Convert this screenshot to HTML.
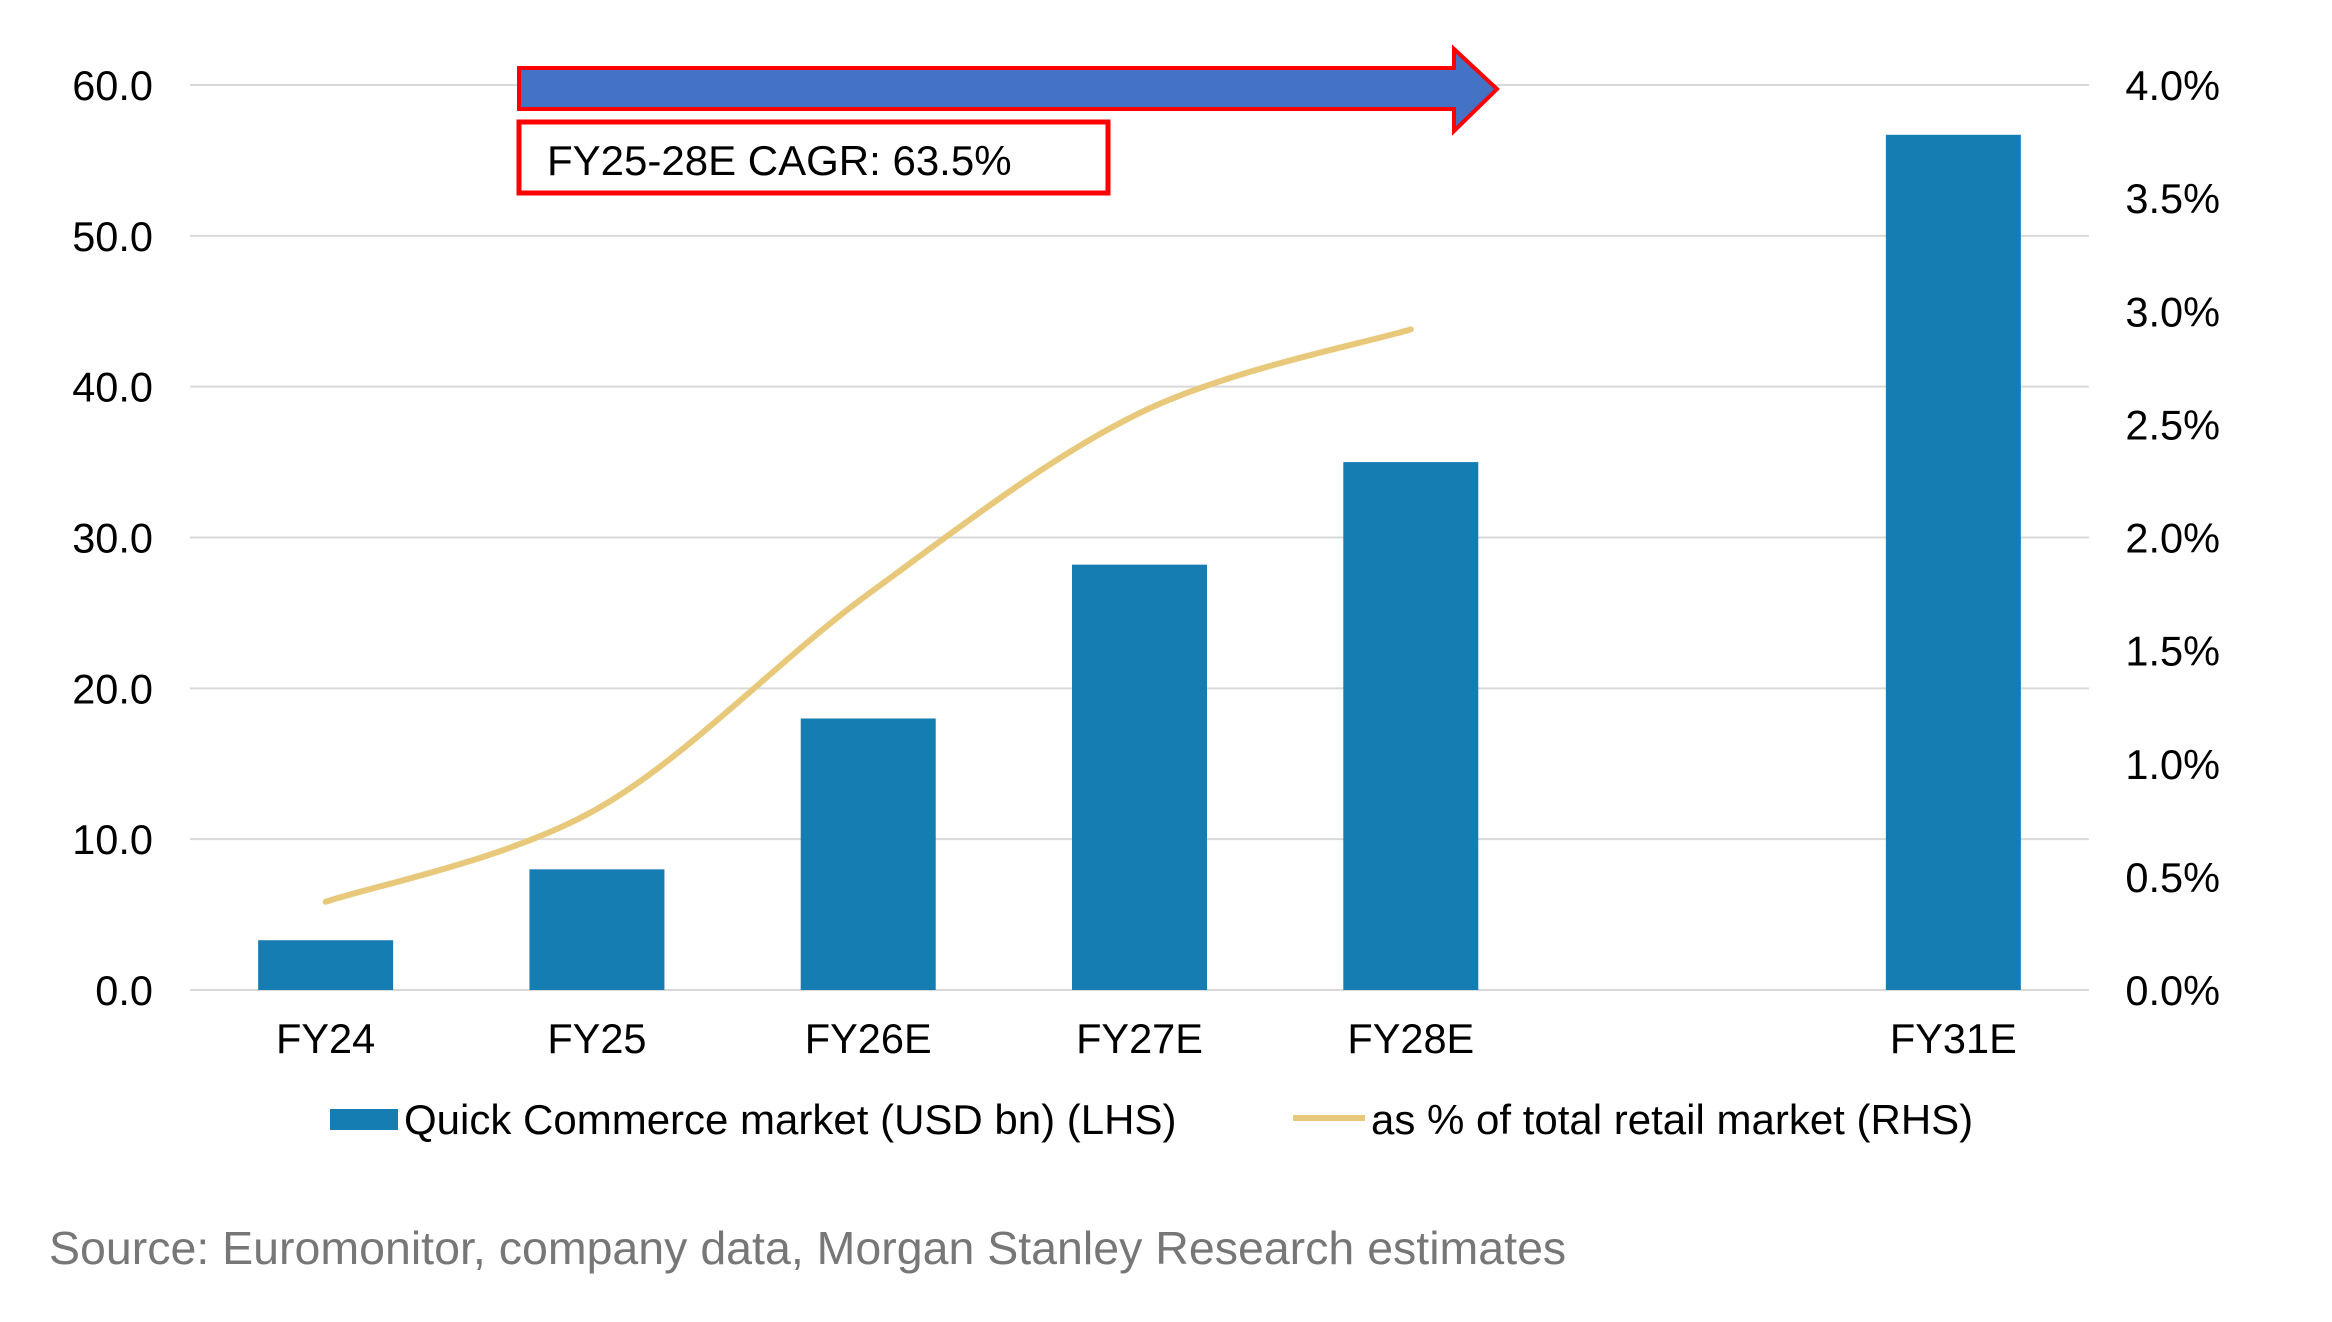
<!DOCTYPE html>
<html><head><meta charset="utf-8"><style>
html,body{margin:0;padding:0;background:#fff;}
svg{display:block;font-family:"Liberation Sans",Arial,sans-serif;}
</style></head><body>
<svg id="chart" width="2332" height="1322" viewBox="0 0 2332 1322">
<g id="grid"></g>
<g id="bars"></g>
<path id="line" fill="none" stroke="#e8c97c" stroke-width="6" stroke-linecap="round"/>
<g id="ylabels"></g>
<g id="y2labels"></g>
<g id="xlabels"></g>
<g>
<polygon points="519,68 1454,68 1454,49 1497,89 1454,131 1454,109 519,109" fill="#4472c4" stroke="#ff0000" stroke-width="4"/>
<rect x="519" y="122" width="589" height="71" fill="#fff" stroke="#ff0000" stroke-width="5"/>
<text x="547" y="175" font-size="42" fill="#000">FY25-28E CAGR: 63.5%</text>
</g>
<g>
<rect x="330" y="1109" width="68" height="21" fill="#157db1"/>
<text x="404" y="1134" font-size="42" fill="#000">Quick Commerce market (USD bn) (LHS)</text>
<line x1="1293" y1="1118" x2="1365" y2="1118" stroke="#e8c97c" stroke-width="6"/>
<text x="1371" y="1134" font-size="42" fill="#000">as % of total retail market (RHS)</text>
</g>
<text x="49" y="1264" font-size="46.5" fill="#777">Source: Euromonitor, company data, Morgan Stanley Research estimates</text>
</svg>
<script>
const categories=["FY24","FY25","FY26E","FY27E","FY28E","","FY31E"];
const marketValues=[3.3,8.0,18.0,28.2,35.0,null,56.7];
const sharePct=[0.39,0.80,1.75,2.55,2.92,null,null];
const leftTicks=[0,10,20,30,40,50,60];
const rightTicks=[0,0.5,1,1.5,2,2.5,3,3.5,4];
const NS="http://www.w3.org/2000/svg";
const L=190,R=2089,T=85,B=990;
const slot=(R-L)/categories.length;
const x=i=>L+slot*(i+0.5);
const y=v=>B-(v/60)*(B-T);
const y2=v=>B-(v/4)*(B-T);
function mk(tag,parent,attrs){const e=document.createElementNS(NS,tag);for(const k in attrs)e.setAttribute(k,attrs[k]);parent.appendChild(e);return e;}
const grid=document.getElementById('grid'),yl=document.getElementById('ylabels'),y2l=document.getElementById('y2labels'),xl=document.getElementById('xlabels'),bars=document.getElementById('bars');
leftTicks.forEach(t=>{
 const g=mk('line',grid,{x1:L,x2:R,y1:y(t),y2:y(t),stroke:'#d9d9d9','stroke-width':2});
 
 
 const tx=mk('text',yl,{x:153,y:y(t)+15,'font-size':41.5,'text-anchor':'end',fill:'#000'});
 tx.textContent=t.toFixed(1);
 
 
});
rightTicks.forEach(t=>{
 const tx=mk('text',y2l,{x:2220,y:y2(t)+15,'font-size':41.5,'text-anchor':'end',fill:'#000'});
 tx.textContent=t.toFixed(1)+'%';
 
 
});
categories.forEach((c,i)=>{
 const tx=mk('text',xl,{x:x(i),y:1053,'font-size':41.5,'text-anchor':'middle',fill:'#000'});
 tx.textContent=c;
 
 
 const v=marketValues[i];
 if(v!=null){
  const r=mk('rect',bars,{x:x(i)-67.5,y:y(v),width:135,height:B-y(v),fill:'#157db1'});
  
  
 }
});
const pts=[];sharePct.forEach((v,i)=>{if(v!=null)pts.push([x(i),y2(v)]);});
let d='M'+pts[0][0]+','+pts[0][1];
for(let i=0;i<pts.length-1;i++){
 const p0=pts[Math.max(i-1,0)],p1=pts[i],p2=pts[i+1],p3=pts[Math.min(i+2,pts.length-1)];
 const c1=[p1[0]+(p2[0]-p0[0])/6,p1[1]+(p2[1]-p0[1])/6],c2=[p2[0]-(p3[0]-p1[0])/6,p2[1]-(p3[1]-p1[1])/6];
 d+=' C'+c1+' '+c2+' '+p2;
}
document.getElementById('line').setAttribute('d',d);
</script>
</body></html>
